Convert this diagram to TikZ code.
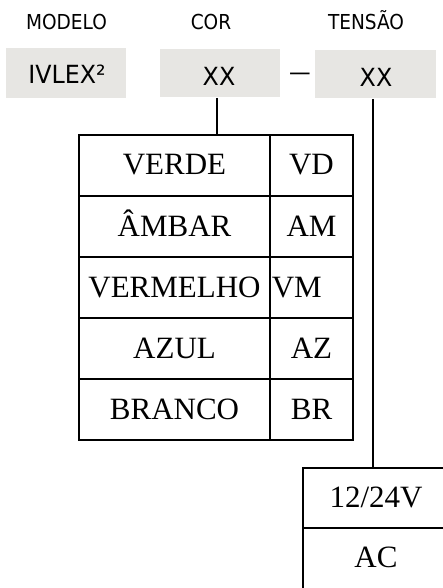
\documentclass[tikz,border=0pt]{standalone}
\usepackage{fontspec}
\setmainfont{Liberation Serif}
\newfontfamily\hdrfont{DejaVu Sans}[FakeStretch=0.9]
\newfontfamily\codefont{DejaVu Sans}[FakeStretch=0.95]
\definecolor{boxgrey}{RGB}{231,230,227}
\begin{document}
\begin{tikzpicture}[x=1pt,y=-1pt,line width=1.6pt,
  hdr/.style={font=\hdrfont\fontsize{20.6}{20.6}\selectfont,anchor=base,inner sep=0},
  codetext/.style={font=\codefont\fontsize{25}{25}\selectfont,anchor=base,inner sep=0},
  greybox/.style={fill=boxgrey,draw=none,inner sep=0,minimum height=48pt},
  cell/.style={draw,inner sep=0,text height=20pt,text depth=1pt,font=\fontsize{31}{31}\selectfont},
  lcell/.style={cell,minimum width=191pt,minimum height=61pt},
  rcell/.style={cell,minimum width=83pt,minimum height=61pt},
  tcell/.style={cell,minimum width=146pt,minimum height=60pt}]
\useasboundingbox (0,0) rectangle (443,588);
\clip (0,0) rectangle (443,588);
% headers
\node[hdr] (hmod) at (66.5,29.7) {MODELO};
\node[hdr] (hcor) at (211,29.7) {COR};
\node[hdr] (hten) at (366,29.7) {TENSÃO};
% grey boxes
\node[greybox,minimum width=120pt,minimum height=50pt] (mod) at (66,73) {};
\node[greybox,minimum width=120pt] (cor) at (220,73) {};
\node[greybox,minimum width=121pt] (ten) at (375.5,74) {};
\node[codetext] (tmod) at (67,84) {IVLEX²};
\node[codetext] (tcor) at (219,86) {XX};
\node[codetext] (tten) at (376,86.5) {XX};
\node[font=\hdrfont\fontsize{24}{24}\selectfont,anchor=base,inner sep=0] (dash) at (300,81) {—};
% colour table
\node[lcell] (c1) at (174.5,165.5) {VERDE};
\node[rcell] (k1) at (311.5,165.5) {VD};
\node[lcell] (c2) at (174.5,226.5) {ÂMBAR};
\node[rcell] (k2) at (311.5,226.5) {AM};
\node[lcell] (c3) at (174.5,287.5) {VERMELHO};
\node[rcell] (k3) at (311.5,287.5) {};
\node[cell,draw=none,anchor=west] (k3t) at (271,287.5) {VM};
\node[lcell] (c4) at (174.5,348.5) {AZUL};
\node[rcell] (k4) at (311.5,348.5) {AZ};
\node[lcell] (c5) at (174.5,409.5) {BRANCO};
\node[rcell] (k5) at (311.5,409.5) {BR};
% voltage table
\node[tcell] (v1) at (376,498) {12/24V};
\node[tcell,minimum height=60.5pt] (v2) at (376,558.25) {AC};
% connectors
\draw ([xshift=-3pt]cor.south) -- ([xshift=-3pt]cor.south |- c1.north);
\draw ([xshift=-2.5pt]ten.south) -- ([xshift=-2.5pt]ten.south |- v1.north);
\end{tikzpicture}
\end{document}
